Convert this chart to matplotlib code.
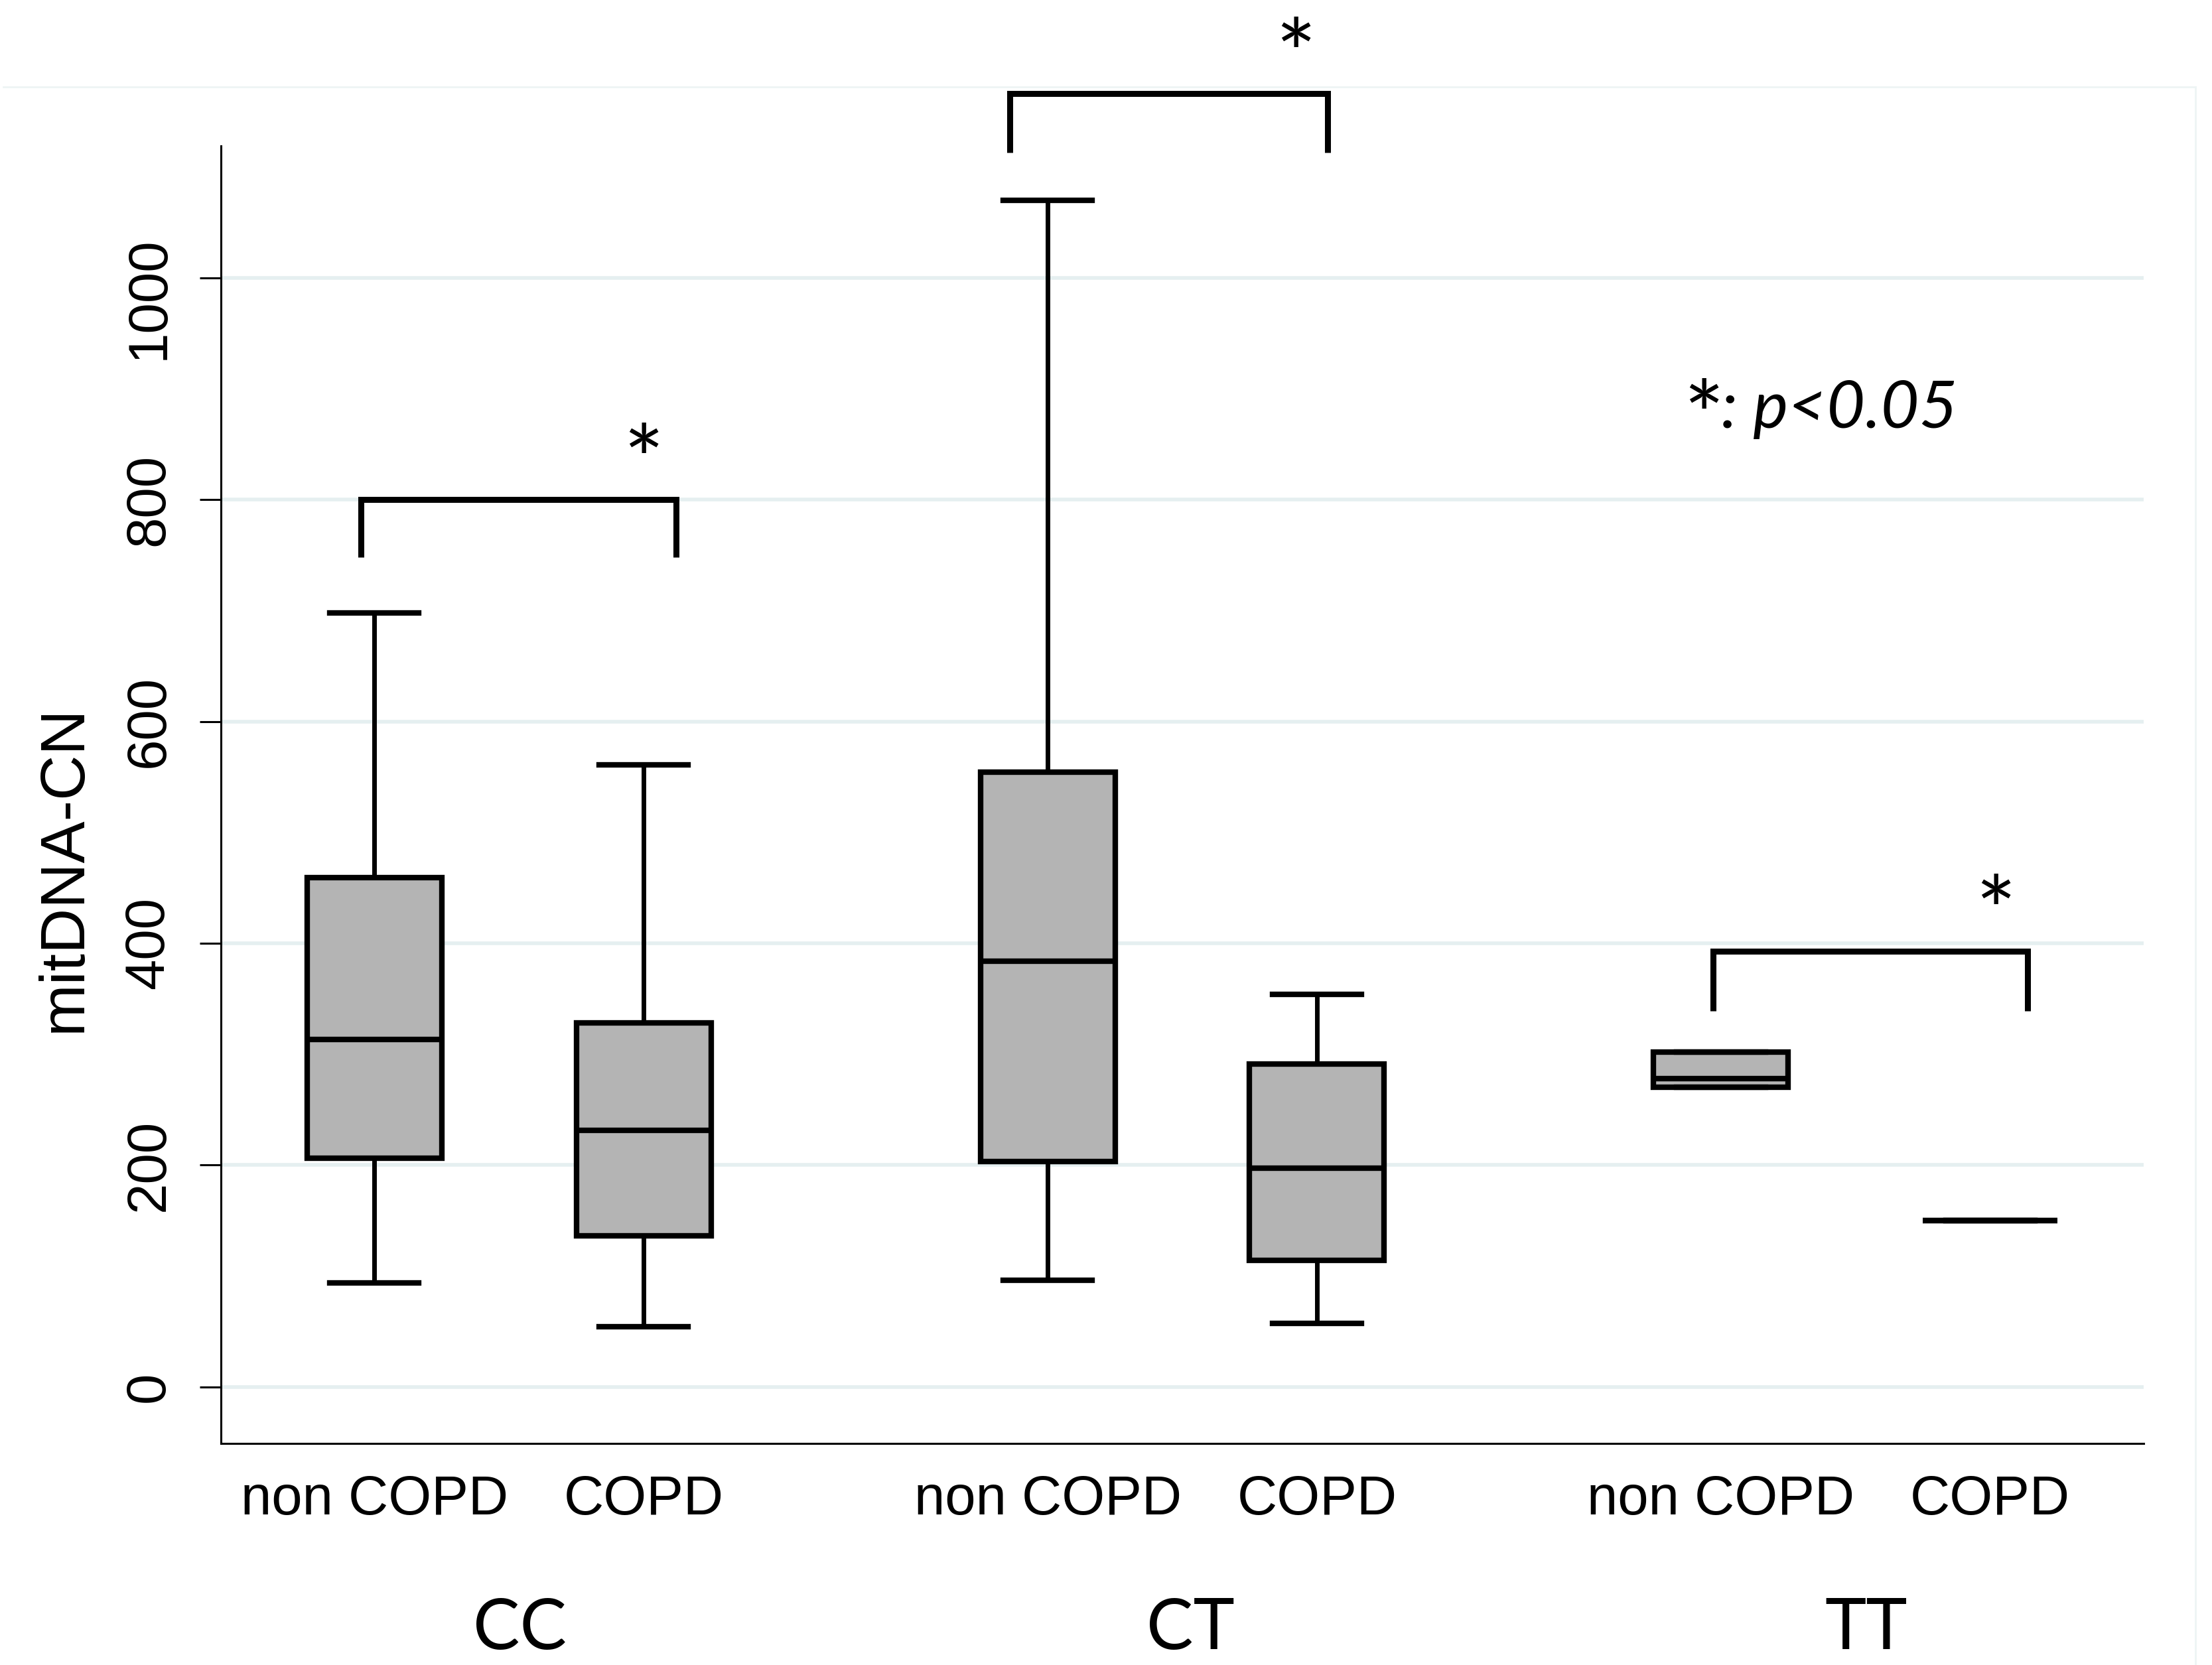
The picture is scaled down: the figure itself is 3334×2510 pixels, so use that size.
import matplotlib
matplotlib.use('Agg')
import matplotlib.pyplot as plt
from matplotlib.transforms import blended_transform_factory, ScaledTranslation

plt.rcParams['font.family'] = ['Liberation Sans', 'DejaVu Sans']

# ---- data ----
groups = ['CC', 'CT', 'TT']
conditions = ['non COPD', 'COPD', 'non COPD', 'COPD', 'non COPD', 'COPD']
positions = [0, 1, 2.5, 3.5, 5, 6]
whisker_low = [94, 54, 96, 57, 270, 150]
q1 = [206, 136, 203, 114, 270, 150]
median = [313, 231, 384, 197, 278, 150]
q3 = [459, 328, 554, 291, 302, 150]
whisker_high = [698, 561, 1070, 354, 302, 150]

yticks = [0, 200, 400, 600, 800, 1000]
ytick_labels = ['0', '200', '400', '600', '800', '1000']

# significance brackets
bracket_left = [-0.05, 2.36, 4.97]
bracket_right = [1.12, 3.54, 6.14]
bracket_top = [800, 1166, 393]
bracket_leg = [748, 1113, 339]
star_x = [1.0, 3.42, 6.02]
group_x = [0.54, 3.03, 5.54]
note_text = ': p<0.05'

fig = plt.figure(figsize=(33.34, 25.10), dpi=100)
ax = fig.add_axes([0.0999, 0.1331, 0.8692, 0.7793])

stats = []
for i in range(len(positions)):
    stats.append(dict(whislo=whisker_low[i], q1=q1[i], med=median[i],
                      q3=q3[i], whishi=whisker_high[i], fliers=[]))

ax.bxp(stats, positions=positions, widths=0.5, capwidths=0.33,
       patch_artist=True, showfliers=False,
       boxprops=dict(facecolor='#b4b4b4', edgecolor='black', linewidth=6),
       medianprops=dict(color='black', linewidth=6),
       whiskerprops=dict(color='black', linewidth=5),
       capprops=dict(color='black', linewidth=6), zorder=3)

ax.set_xlim(-0.57, 6.57)
ax.set_ylim(-51, 1119)

ax.set_yticks(yticks, labels=ytick_labels)
ax.set_xticks(positions, labels=conditions)
ax.yaxis.grid(True, color='#e5eff0', linewidth=4)
ax.set_axisbelow(True)

for s in ['top', 'right']:
    ax.spines[s].set_visible(False)
for s in ['left', 'bottom']:
    ax.spines[s].set_linewidth(2.2)

ax.tick_params(axis='y', length=23, width=2.2, pad=27, labelsize=60,
               labelrotation=90)
ax.tick_params(axis='x', length=0, pad=33, labelsize=60)
for lab in ax.get_yticklabels():
    lab.set_va('center')
    lab.set_ha('right')
    if lab.get_text() == '1000':
        lab.set_transform(lab.get_transform() +
                          ScaledTranslation(0, -0.30, fig.dpi_scale_trans))

ax.set_ylabel('mitDNA-CN', fontsize=68)
ax.yaxis.set_label_coords(-0.0659, 0.443)

# brackets and stars
for i in range(len(bracket_left)):
    ax.plot([bracket_left[i], bracket_left[i], bracket_right[i], bracket_right[i]],
            [bracket_leg[i], bracket_top[i], bracket_top[i], bracket_leg[i]],
            color='black', linewidth=6.5, clip_on=False, solid_capstyle='butt',
            solid_joinstyle='miter', zorder=4)
    ax.text(star_x[i], bracket_top[i] + 5, '*', fontsize=104,
            family=['Lato', 'DejaVu Sans'], ha='center', va='baseline',
            clip_on=False)

# p-value note
ax.text(4.935, 845, '*', fontsize=104, family=['Lato', 'DejaVu Sans'],
        ha='center', va='baseline')
ax.text(5.0, 865, note_text, fontsize=72, style='italic',
        family=['Lato', 'DejaVu Sans'], ha='left', va='baseline')

trans = blended_transform_factory(ax.transData, ax.transAxes)
for gx, g in zip(group_x, groups):
    ax.text(gx, -0.1585, g, transform=trans, fontsize=76,
            family=['Lato', 'DejaVu Sans'], ha='center', va='baseline',
            clip_on=False)

# faint outer frame lines
fig.add_artist(plt.Line2D([0.0015, 0.9925], [0.948, 0.948],
                          transform=fig.transFigure, color='#eef4f4', lw=2))
fig.add_artist(plt.Line2D([0.9925, 0.9925], [0.0, 0.948],
                          transform=fig.transFigure, color='#eef4f4', lw=2))

fig.savefig('out.png', dpi=100, facecolor='white')
